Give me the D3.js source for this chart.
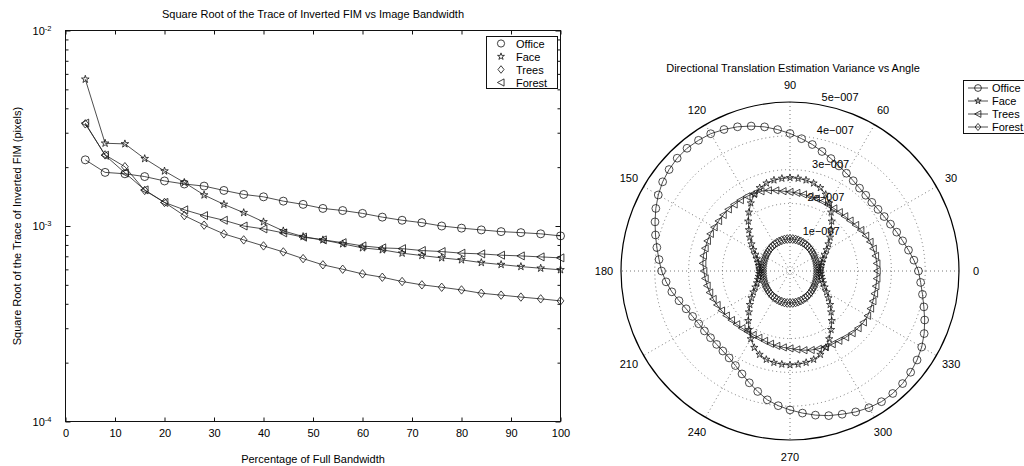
<!DOCTYPE html>
<html>
<head>
<meta charset="utf-8">
<script src="https://cdn.jsdelivr.net/npm/d3@7"></script>
<style>
  body { margin: 0; background: #fff; }
  svg { display: block; }
  text { font-family: "Liberation Sans", Arial, Helvetica, sans-serif; font-size: 11px; fill: #000; }
</style>
</head>
<body>
<svg id="chart" width="1024" height="466"></svg>
<script>
// ---------- Left panel: sqrt(trace(FIM^-1)) vs bandwidth ----------
const bandwidth = [4, 8, 12, 16, 20, 24, 28, 32, 36, 40, 44, 48, 52, 56, 60, 64, 68, 72, 76, 80, 84, 88, 92, 96, 100];
const fimOffice = [2.18e-3, 1.88e-3, 1.85e-3, 1.79e-3, 1.70e-3, 1.64e-3, 1.60e-3, 1.52e-3, 1.45e-3, 1.41e-3, 1.34e-3, 1.29e-3, 1.23e-3, 1.20e-3, 1.16e-3, 1.11e-3, 1.07e-3, 1.04e-3, 1.00e-3, 9.75e-4, 9.55e-4, 9.36e-4, 9.25e-4, 9.12e-4, 8.90e-4];
const fimFace   = [5.63e-3, 2.65e-3, 2.63e-3, 2.21e-3, 1.91e-3, 1.67e-3, 1.44e-3, 1.29e-3, 1.17e-3, 1.05e-3, 9.44e-4, 8.83e-4, 8.49e-4, 8.10e-4, 7.73e-4, 7.55e-4, 7.26e-4, 7.06e-4, 6.87e-4, 6.71e-4, 6.50e-4, 6.35e-4, 6.20e-4, 6.08e-4, 5.97e-4];
const fimTrees  = [3.33e-3, 2.31e-3, 2.01e-3, 1.52e-3, 1.32e-3, 1.13e-3, 1.01e-3, 9.11e-4, 8.49e-4, 7.91e-4, 7.37e-4, 6.81e-4, 6.33e-4, 6.01e-4, 5.69e-4, 5.47e-4, 5.20e-4, 5.00e-4, 4.86e-4, 4.71e-4, 4.53e-4, 4.43e-4, 4.33e-4, 4.24e-4, 4.14e-4];
const fimForest = [3.36e-3, 2.30e-3, 1.87e-3, 1.53e-3, 1.32e-3, 1.21e-3, 1.13e-3, 1.07e-3, 1.00e-3, 9.66e-4, 9.22e-4, 8.77e-4, 8.49e-4, 8.22e-4, 7.91e-4, 7.73e-4, 7.66e-4, 7.49e-4, 7.40e-4, 7.26e-4, 7.20e-4, 7.09e-4, 7.03e-4, 6.95e-4, 6.87e-4];
const xTicks = [0, 10, 20, 30, 40, 50, 60, 70, 80, 90, 100];
const yMajorTicks = [1e-4, 1e-3, 1e-2];
const yMajorExp = ["-4", "-3", "-2"];
const yMinorTicks = [2e-4, 3e-4, 4e-4, 5e-4, 6e-4, 7e-4, 8e-4, 9e-4, 2e-3, 3e-3, 4e-3, 5e-3, 6e-3, 7e-3, 8e-3, 9e-3];
const leftNames = ["Office", "Face", "Trees", "Forest"];
const leftMarkers = ["circle", "star", "diamond", "triLeft"];

// ---------- Right panel: directional variance vs angle ----------
const angleDeg = [0, 5, 10, 15, 20, 25, 30, 35, 40, 45, 50, 55, 60, 65, 70, 75, 80, 85, 90, 95, 100, 105, 110, 115, 120, 125, 130, 135, 140, 145, 150, 155, 160, 165, 170, 175,
  180, 185, 190, 195, 200, 205, 210, 215, 220, 225, 230, 235, 240, 245, 250, 255, 260, 265, 270, 275, 280, 285, 290, 295, 300, 305, 310, 315, 320, 325, 330, 335, 340, 345, 350, 355];
// variance values in units of 1e-7
const varOffice = [3.80, 3.68, 3.56, 3.45, 3.36, 3.28, 3.22, 3.18, 3.16, 3.17, 3.20, 3.26, 3.34, 3.43, 3.54, 3.66, 3.80, 3.93, 4.07, 4.20, 4.33, 4.44, 4.54, 4.62, 4.69, 4.72, 4.74, 4.72, 4.67, 4.60, 4.50, 4.38, 4.25, 4.12, 4.00, 3.89,
  3.80, 3.68, 3.55, 3.40, 3.27, 3.18, 3.12, 3.09, 3.07, 3.07, 3.09, 3.14, 3.23, 3.36, 3.52, 3.69, 3.87, 4.00, 4.11, 4.22, 4.33, 4.43, 4.51, 4.60, 4.67, 4.72, 4.73, 4.71, 4.66, 4.59, 4.50, 4.38, 4.24, 4.10, 3.98, 3.88];
const varFace = [0.90, 0.91, 0.94, 0.98, 1.04, 1.13, 1.25, 1.39, 1.55, 1.72, 1.92, 2.12, 2.32, 2.50, 2.62, 2.69, 2.73, 2.75, 2.76, 2.75, 2.73, 2.69, 2.62, 2.50, 2.32, 2.12, 1.92, 1.72, 1.55, 1.39, 1.25, 1.13, 1.04, 0.98, 0.94, 0.91,
  0.90, 0.91, 0.94, 0.98, 1.04, 1.13, 1.25, 1.39, 1.55, 1.72, 1.92, 2.12, 2.32, 2.50, 2.63, 2.71, 2.75, 2.77, 2.78, 2.77, 2.75, 2.71, 2.63, 2.50, 2.32, 2.12, 1.92, 1.72, 1.55, 1.39, 1.25, 1.13, 1.04, 0.98, 0.94, 0.91];
const varTrees = [2.58, 2.58, 2.57, 2.55, 2.52, 2.47, 2.42, 2.37, 2.32, 2.29, 2.27, 2.26, 2.26, 2.27, 2.28, 2.29, 2.30, 2.32, 2.34, 2.37, 2.42, 2.47, 2.51, 2.53, 2.55, 2.56, 2.57, 2.58, 2.58, 2.58, 2.59, 2.60, 2.60, 2.60, 2.60, 2.59,
  2.55, 2.52, 2.49, 2.46, 2.42, 2.38, 2.34, 2.30, 2.26, 2.23, 2.21, 2.19, 2.18, 2.18, 2.20, 2.23, 2.25, 2.27, 2.29, 2.33, 2.38, 2.42, 2.45, 2.48, 2.50, 2.52, 2.56, 2.60, 2.63, 2.65, 2.65, 2.63, 2.61, 2.59, 2.58, 2.58];
const varForest = [0.800, 0.801, 0.805, 0.810, 0.818, 0.827, 0.838, 0.849, 0.862, 0.875, 0.888, 0.901, 0.913, 0.923, 0.932, 0.940, 0.946, 0.949, 0.950, 0.949, 0.946, 0.940, 0.932, 0.923, 0.913, 0.901, 0.888, 0.875, 0.862, 0.849, 0.838, 0.827, 0.818, 0.810, 0.805, 0.801,
  0.800, 0.801, 0.805, 0.810, 0.818, 0.827, 0.838, 0.849, 0.862, 0.875, 0.888, 0.901, 0.913, 0.923, 0.932, 0.940, 0.946, 0.949, 0.950, 0.949, 0.946, 0.940, 0.932, 0.923, 0.913, 0.901, 0.888, 0.875, 0.862, 0.849, 0.838, 0.827, 0.818, 0.810, 0.805, 0.801];
const varUnit = 1e-7;
const ringValues = [1e-7, 2e-7, 3e-7, 4e-7, 5e-7];
const ringLabels = ["1e\u2212007", "2e\u2212007", "3e\u2212007", "4e\u2212007", "5e\u2212007"];
const spokeAngles = [0, 30, 60, 90, 120, 150, 180, 210, 240, 270, 300, 330];
const rightNames = ["Office", "Face", "Trees", "Forest"];
const rightMarkers = ["circle", "star", "triLeft", "diamond"];

// ---------- marker shapes ----------
function markerPath(kind, s) {
  switch (kind) {
    case "circle": return d3.symbol(d3.symbolCircle, Math.PI * s * s)();
    case "star": return d3.symbol(d3.symbolStar, (s * s) / 0.8908130915)();
    case "diamond": return `M0,${-s * 1.05}L${s * 0.85},0L0,${s * 1.05}L${-s * 0.85},0Z`;
    case "triLeft": return `M${-s},0L${s * 0.85},${-s}L${s * 0.85},${s}Z`;
  }
}

const svg = d3.select("#chart");
const ink = "#111";

// ================= Left panel =================
const box = { left: 65.5, right: 560.5, top: 30.5, bottom: 421.5 };
const x = d3.scaleLinear().domain([0, 100]).range([box.left, box.right]);
const y = d3.scaleLog().domain([1e-4, 1e-2]).range([box.bottom, box.top]);

const gL = svg.append("g");

// bottom axis with labels
gL.append("g").attr("transform", `translate(0,${box.bottom})`)
  .call(d3.axisBottom(x).tickValues(xTicks).tickSizeInner(-4).tickSizeOuter(0).tickPadding(8).tickFormat(d3.format("d")))
  .call(g => g.select(".domain").remove());
// top mirrored ticks
gL.append("g").attr("transform", `translate(0,${box.top})`)
  .call(d3.axisTop(x).tickValues(xTicks).tickSizeInner(-4).tickSizeOuter(0).tickFormat(""))
  .call(g => g.select(".domain").remove());
// left: major ticks with power-of-ten labels
gL.append("g").attr("transform", `translate(${box.left},0)`)
  .call(d3.axisLeft(y).tickValues(yMajorTicks).tickSizeInner(-5).tickSizeOuter(0).tickPadding(14).tickFormat(""))
  .call(g => g.select(".domain").remove())
  .call(g => g.selectAll(".tick text").each(function (d, i) {
    const t = d3.select(this);
    t.append("tspan").text("10");
    t.append("tspan").attr("class", "sup").attr("dy", "-0.5em").text(yMajorExp[i]);
  }));
gL.append("g").attr("transform", `translate(${box.left},0)`)
  .call(d3.axisLeft(y).tickValues(yMinorTicks).tickSizeInner(-3).tickSizeOuter(0).tickFormat(""))
  .call(g => g.select(".domain").remove());
// right mirrored ticks
gL.append("g").attr("transform", `translate(${box.right},0)`)
  .call(d3.axisRight(y).tickValues(yMajorTicks).tickSizeInner(-5).tickSizeOuter(0).tickFormat(""))
  .call(g => g.select(".domain").remove());
gL.append("g").attr("transform", `translate(${box.right},0)`)
  .call(d3.axisRight(y).tickValues(yMinorTicks).tickSizeInner(-3).tickSizeOuter(0).tickFormat(""))
  .call(g => g.select(".domain").remove());
gL.selectAll(".tick line").attr("stroke", ink);
gL.selectAll(".tick text").style("font-family", "'Liberation Sans', Arial, sans-serif").style("font-size", "11px").attr("fill", "#000");
gL.selectAll(".tick text tspan.sup").style("font-size", "7.5px");

// frame
gL.append("rect").attr("x", box.left).attr("y", box.top)
  .attr("width", box.right - box.left).attr("height", box.bottom - box.top)
  .attr("fill", "none").attr("stroke", ink).attr("stroke-width", 1);

// series
const leftSeries = [fimOffice, fimFace, fimTrees, fimForest];
const lineL = d3.line().x((d, i) => x(bandwidth[i])).y(d => y(d));
leftSeries.forEach((vals, k) => {
  const g = gL.append("g");
  g.append("path").attr("d", lineL(vals)).attr("fill", "none").attr("stroke", "#222").attr("stroke-width", 0.8);
  g.selectAll("path.m").data(vals).join("path").attr("class", "m")
    .attr("transform", (d, i) => `translate(${x(bandwidth[i])},${y(d)})`)
    .attr("d", markerPath(leftMarkers[k], 4))
    .attr("fill", "none").attr("stroke", "#111").attr("stroke-width", 0.8);
});

// legend
const lgL = gL.append("g");
lgL.append("rect").attr("x", 486.5).attr("y", 36.5).attr("width", 71).attr("height", 52)
  .attr("fill", "#fff").attr("stroke", ink).attr("stroke-width", 1);
leftNames.forEach((n, k) => {
  const yy = 43.5 + k * 13;
  lgL.append("path").attr("transform", `translate(501,${yy})`).attr("d", markerPath(leftMarkers[k], 3.6))
    .attr("fill", "none").attr("stroke", "#111").attr("stroke-width", 0.8);
  lgL.append("text").attr("x", 516).attr("y", yy).attr("dominant-baseline", "central").text(n);
});

// titles
gL.append("text").attr("x", 313).attr("y", 14).attr("text-anchor", "middle").attr("dominant-baseline", "central")
  .text("Square Root of the Trace of Inverted FIM vs Image Bandwidth");
gL.append("text").attr("x", 313).attr("y", 459).attr("text-anchor", "middle").attr("dominant-baseline", "central")
  .text("Percentage of Full Bandwidth");
gL.append("text").attr("transform", `translate(17,${(box.top + box.bottom) / 2}) rotate(-90)`)
  .attr("text-anchor", "middle").attr("dominant-baseline", "central")
  .text("Square Root of the Trace of Inverted FIM (pixels)");

// ================= Right panel (polar) =================
const cx = 790, cy = 271, R = 169;
const r = d3.scaleLinear().domain([0, 5e-7]).range([0, R]);
const toRad = a => (90 - a) * Math.PI / 180; // compass angle used by d3 radial helpers
const gP = svg.append("g").attr("transform", `translate(${cx},${cy})`);

gP.append("circle").attr("r", R).attr("fill", "#fff");
// dotted rings
gP.selectAll("circle.ring").data(ringValues.slice(0, -1)).join("circle").attr("class", "ring")
  .attr("r", d => r(d)).attr("fill", "none").attr("stroke", "#555").attr("stroke-width", 0.8)
  .attr("stroke-dasharray", "1,3");
// dotted spokes through centre
gP.selectAll("line.spoke").data(spokeAngles.slice(0, 6)).join("line").attr("class", "spoke")
  .attr("x1", d => d3.pointRadial(toRad(d), R)[0]).attr("y1", d => d3.pointRadial(toRad(d), R)[1])
  .attr("x2", d => d3.pointRadial(toRad(d + 180), R)[0]).attr("y2", d => d3.pointRadial(toRad(d + 180), R)[1])
  .attr("stroke", "#555").attr("stroke-width", 0.8).attr("stroke-dasharray", "1,3");
// outer ring
gP.append("circle").attr("r", R).attr("fill", "none").attr("stroke", "#000").attr("stroke-width", 1.2);

// ring labels
const labAng = 82 * Math.PI / 180;
gP.selectAll("text.rl").data(ringValues).join("text").attr("class", "rl")
  .attr("x", d => r(d) * Math.cos(labAng) + 8)
  .attr("y", d => -r(d) * Math.sin(labAng) - 7)
  .attr("dominant-baseline", "central")
  .text((d, i) => ringLabels[i]);
// angle labels
gP.selectAll("text.al").data(spokeAngles).join("text").attr("class", "al")
  .attr("x", d => d3.pointRadial(toRad(d), R + 17)[0])
  .attr("y", d => d3.pointRadial(toRad(d), R + 17)[1])
  .attr("text-anchor", "middle").attr("dominant-baseline", "central")
  .text(d => d);

// series
const rightSeries = [varOffice, varFace, varTrees, varForest];
const rightSize = [3.9, 3.8, 3.6, 4.2];
const radial = d3.lineRadial().angle((d, i) => toRad(angleDeg[i])).radius(d => r(d * varUnit)).curve(d3.curveLinearClosed);
rightSeries.forEach((vals, k) => {
  const g = gP.append("g");
  g.append("path").attr("d", radial(vals)).attr("fill", "none").attr("stroke", "#222").attr("stroke-width", 0.8);
  g.selectAll("path.m").data(vals).join("path").attr("class", "m")
    .attr("transform", (d, i) => { const p = d3.pointRadial(toRad(angleDeg[i]), r(d * varUnit)); return `translate(${p[0]},${p[1]})`; })
    .attr("d", markerPath(rightMarkers[k], rightSize[k]))
    .attr("fill", "none").attr("stroke", "#111").attr("stroke-width", 0.75);
});

// title
svg.append("text").attr("x", 793).attr("y", 68).attr("text-anchor", "middle").attr("dominant-baseline", "central")
  .text("Directional Translation Estimation Variance vs Angle");

// legend
const lgR = svg.append("g");
lgR.append("rect").attr("x", 963.5).attr("y", 80.5).attr("width", 80).attr("height", 53)
  .attr("fill", "#fff").attr("stroke", ink).attr("stroke-width", 1);
rightNames.forEach((n, k) => {
  const yy = 88 + k * 13;
  lgR.append("line").attr("x1", 968).attr("x2", 988).attr("y1", yy).attr("y2", yy).attr("stroke", "#222").attr("stroke-width", 0.8);
  lgR.append("path").attr("transform", `translate(978,${yy})`).attr("d", markerPath(rightMarkers[k], 3.4))
    .attr("fill", "none").attr("stroke", "#111").attr("stroke-width", 0.8);
  lgR.append("text").attr("x", 992).attr("y", yy).attr("dominant-baseline", "central").text(n);
});
</script>
</body>
</html>
